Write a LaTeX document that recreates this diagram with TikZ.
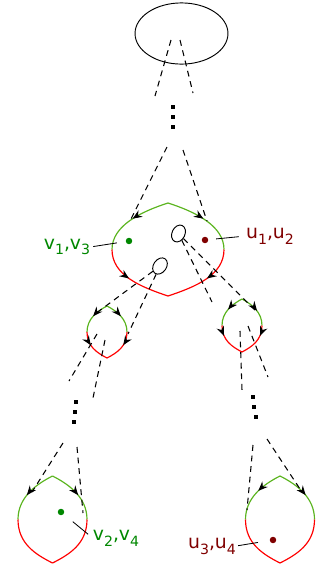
\documentclass[tikz,border=0pt]{standalone}
\usepackage{fontspec}
\setmainfont{DejaVu Sans}
\usetikzlibrary{shapes.geometric,arrows.meta,decorations.markings}
\definecolor{lgreen}{RGB}{90,180,30}
\definecolor{dgreen}{RGB}{0,135,0}
\definecolor{dred}{RGB}{128,0,0}
\newcommand\sub[1]{\raisebox{-5pt}{\fontsize{12}{13}\selectfont #1}}
\begin{document}
\begin{tikzpicture}[x=0.85pt,y=-0.85pt]
    \tikzset{%
        dl/.style={dash pattern=on 5pt off 4pt, line width=0.9pt},
        gs/.style={draw=lgreen, line width=1pt},
        rs/.style={draw=red, line width=1pt},
        mk/.style={postaction={decorate}, decoration={markings,
            mark=at position #1 with {\arrow{Stealth[length=8pt,width=6.5pt,color=black]}}}},
        lp/.style={draw, ellipse, inner sep=0pt, line width=0.8pt},
        lab/.style={font=\fontsize{16}{18}\selectfont, inner sep=0pt},
        ptr/.style={line width=0.7pt},
        pt/.style={circle, inner sep=0pt, minimum size=5.5pt}%
        }
    \useasboundingbox (0,0) rectangle (320,572);
    % root and loops
    \node[lp, minimum width=79pt, minimum height=52pt](root)at(181.5,33.5){};
    \node[lp, minimum width=11pt, minimum height=15pt, rotate=-25](loopa)at(178.5,233.5){};
    \node[lp, minimum width=11pt, minimum height=15pt, rotate=-35](loopb)at(160,266){};
    % big leaf
    \draw[gs,mk=0.5] (168,203) .. controls (140,212) and (112,226) .. (112,249.5);
    \draw[gs,mk=0.5] (168,203) .. controls (196,212) and (224,226) .. (224,249.5);
    \draw[rs,mk=0.45] (112,249.5) .. controls (112,275) and (140,286.7) .. (168,296);
    \draw[rs,mk=0.45] (224,249.5) .. controls (224,275) and (196,286.7) .. (168,296);
    % left small leaf
    \draw[gs,mk=0.5] (107,306) .. controls (97,311.2) and (87,319) .. (87,332);
    \draw[gs,mk=0.5] (107,306) .. controls (117,311.2) and (127,319) .. (127,332);
    \draw[rs,mk=0.4] (87,332) .. controls (87,346.3) and (97,352.8) .. (107,358);
    \draw[rs,mk=0.4] (127,332) .. controls (127,346.3) and (117,352.8) .. (107,358);
    % right small leaf
    \draw[gs,mk=0.5] (242,299) .. controls (232,304.3) and (222,312.3) .. (222,325.5);
    \draw[gs,mk=0.55] (242,299) .. controls (252,304.3) and (262,312.3) .. (262,325.5);
    \draw[rs,mk=0.3] (222,325.5) .. controls (222,340.1) and (232,346.7) .. (242,352);
    \draw[rs,mk=0.3] (262,325.5) .. controls (262,340.1) and (252,346.7) .. (242,352);
    % bottom left leaf
    \draw[gs,mk=0.55] (52.5,476) .. controls (35.3,484.7) and (18,497.8) .. (18,519.5);
    \draw[gs,mk=0.55] (52.5,476) .. controls (69.8,484.7) and (87,497.8) .. (87,519.5);
    \draw[rs] (18,519.5) .. controls (18,543.4) and (35.3,554.3) .. (52.5,563);
    \draw[rs] (87,519.5) .. controls (87,543.4) and (69.8,554.3) .. (52.5,563);
    % bottom right leaf
    \draw[gs,mk=0.45] (280,476) .. controls (262.8,484.7) and (245.5,497.8) .. (245.5,519.5);
    \draw[gs,mk=0.55] (280,476) .. controls (297.3,484.7) and (314.5,497.8) .. (314.5,519.5);
    \draw[rs] (245.5,519.5) .. controls (245.5,543.4) and (262.8,554.3) .. (280,563);
    \draw[rs] (314.5,519.5) .. controls (314.5,543.4) and (297.3,554.3) .. (280,563);
    % ends of the dashed paths
    \coordinate(ra)at(171,40); \coordinate(rae)at(155,96);
    \coordinate(rb)at(180,40); \coordinate(rbe)at(193,93);
    \coordinate(sa)at(167,147); \coordinate(sae)at(130,221);
    \coordinate(sb)at(183,150); \coordinate(sbe)at(207,221);
    \coordinate(la)at(95,314); \coordinate(lb)at(128,334);
    \coordinate(ka)at(212,302); \coordinate(kb)at(255,310);
    \coordinate(ea)at(97,334); \coordinate(eae)at(69,381);
    \coordinate(eb)at(105,340); \coordinate(ebe)at(93,398);
    \coordinate(fa)at(63,443); \coordinate(fae)at(32,492);
    \coordinate(fb)at(77,447); \coordinate(fbe)at(83,513);
    \coordinate(ga)at(240,331); \coordinate(gae)at(242,390);
    \coordinate(gb)at(248,326); \coordinate(gbe)at(268,377);
    \coordinate(ha)at(253,445); \coordinate(hae)at(247,510);
    \coordinate(hb)at(267,439); \coordinate(hbe)at(302,492);
    \path
    (ra)edge[dl](rae)
    (rb)edge[dl](rbe)
    (sa)edge[dl](sae)
    (sb)edge[dl](sbe)
    (loopb)edge[dl](la)
    (loopb)edge[dl](lb)
    (loopa)edge[dl](ka)
    (loopa)edge[dl](kb)
    (ea)edge[dl](eae)
    (eb)edge[dl](ebe)
    (fa)edge[dl](fae)
    (fb)edge[dl](fbe)
    (ga)edge[dl](gae)
    (gb)edge[dl](gbe)
    (ha)edge[dl](hae)
    (hb)edge[dl](hbe);
    % vertical dots
    \foreach \x/\y in {173/107,173/117,173/127,76/402,75/412,74/422,253/397,254/407,256/417}
        \fill (\x-1.8,\y-1.8) rectangle ++(3.6,3.6);
    % vertices and labels
    \node[pt, fill=dgreen](ga1)at(129,241){};
    \node[pt, fill=dred](ud1)at(205,240){};
    \node[pt, fill=dgreen](ga2)at(61,512){};
    \node[pt, fill=dred](ud2)at(273,540){};
    \node[lab, text=dgreen](v13)at(67,247){v\sub{1},v\sub{3}};
    \node[lab, text=dred](u12)at(270,236){u\sub{1},u\sub{2}};
    \node[lab, text=dgreen](v24)at(116,538){v\sub{2},v\sub{4}};
    \node[lab, text=dred](u34)at(212,546){u\sub{3},u\sub{4}};
    \path
    (v13.east)edge[ptr, shorten <=2.5pt, shorten >=7.5pt](ga1)
    (u12.west)edge[ptr, shorten <=6pt, shorten >=6.5pt](ud1)
    (v24.west)edge[ptr, shorten <=5pt, shorten >=10pt](ga2)
    (u34.east)edge[ptr, shorten <=1.7pt, shorten >=10pt](ud2);
\end{tikzpicture}
\end{document}
